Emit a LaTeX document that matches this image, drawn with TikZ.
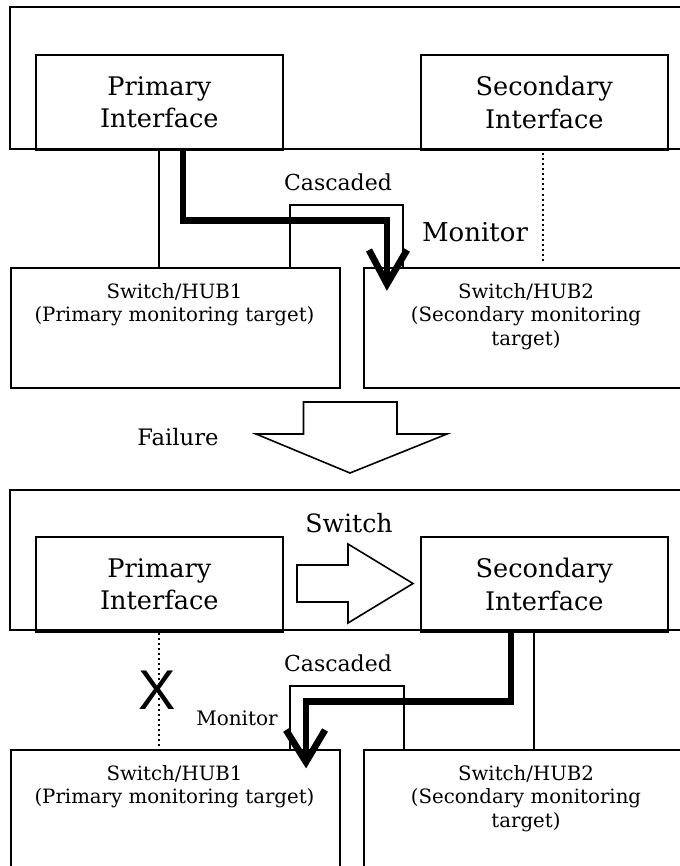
\documentclass[tikz,border=0pt]{standalone}
\usepackage{fontspec}
\setmainfont{DejaVu Serif}
\newfontfamily\xsans{Liberation Sans}
\begin{document}
\begin{tikzpicture}[x=0.75pt,y=-0.75pt,
  frame/.style={line width=1.5pt},
  ifbox/.style={draw, line width=1.2pt, anchor=north west, inner sep=0pt, align=center,
    minimum width=247*0.75pt, minimum height=95*0.75pt, font=\fontsize{19.2}{24.5}\selectfont},
  hubbox/.style={draw, line width=1.5pt, anchor=north west, inner sep=0pt},
  hubtext/.style={align=center, inner sep=0pt, anchor=north, font=\fontsize{14.8}{17.6}\selectfont},
  thinline/.style={line width=1pt},
  heavy/.style={line width=5pt, line join=miter},
  dotline/.style={line width=1.5pt, dash pattern=on 1.5pt off 2.3pt},
  lbl/.style={inner sep=0pt},
  blockarrow/.style={draw, line width=1.2pt, fill=white, line join=miter}]
\useasboundingbox (0,0) rectangle (680,866);
\clip (0,0) rectangle (680,866);
\fill[white] (0,0) rectangle (680,866);

% ---------- top situation ----------
\draw[frame] (700,7) -| (10,149) -- (700,149);
\node[ifbox] (p1) at (35,54) {Primary\\Interface};
\node[ifbox] (s1) at (420,54) {Secondary\\Interface};
\node[hubbox, minimum width=329*0.75pt, minimum height=120*0.75pt] (h1a) at (10,267) {};
\node[hubbox, minimum width=340*0.75pt, minimum height=120*0.75pt] (h2a) at (363,267) {};
\node[hubtext] (h1at) at (174.5,283) {Switch/HUB1\\(Primary monitoring target)};
\node[hubtext] (h2at) at (526,283) {Switch/HUB2\\(Secondary monitoring\\target)};

\draw[thinline] (159,0 |- p1.south) -- (159,0 |- h1a.north);
\draw[thinline] (290,0 |- h1a.north) |- (403,205) -- (403,0 |- h2a.north);
\coordinate (tipA) at (387,284);
\draw[heavy] (183,0 |- p1.south) |- (387,220.5) -- (tipA);
\draw[heavy] (369,250) -- (tipA) -- (407,250);
\draw[dotline] (543,153) -- (543,264);
\node[lbl, font=\fontsize{16.5}{17}\selectfont] (casc1) at (338,182) {Cascaded};
\node[lbl, font=\fontsize{19.5}{20}\selectfont] (mon1) at (475,232) {Monitor};

% ---------- failure ----------
\draw[blockarrow] (303.5,402) -- (397,402) -- (397,434) -- (447,434) -- (350,473)
  -- (256,434) -- (303.5,434) -- cycle;
\node[lbl, font=\fontsize{17}{17}\selectfont] (fail) at (178,437) {Failure};

% ---------- bottom situation ----------
\draw[frame] (700,490) -| (10,630) -- (700,630);
\node[ifbox] (p2) at (35,536) {Primary\\Interface};
\node[ifbox] (s2) at (420,536) {Secondary\\Interface};
\node[hubbox, minimum width=329*0.75pt, minimum height=140*0.75pt] (h1b) at (10,749) {};
\node[hubbox, minimum width=340*0.75pt, minimum height=140*0.75pt] (h2b) at (363,749) {};
\node[hubtext] (h1bt) at (174.5,765) {Switch/HUB1\\(Primary monitoring target)};
\node[hubtext] (h2bt) at (526,765) {Switch/HUB2\\(Secondary monitoring\\target)};

\draw[blockarrow] (297,565) -- (348,565) -- (348,544) -- (413,583.5) -- (348,623)
  -- (348,602) -- (297,602) -- cycle;
\node[lbl, font=\fontsize{18.9}{19}\selectfont] (sw) at (349,523) {Switch};

\draw[dotline] (159,0 |- p2.south) -- (159,0 |- h1b.north);
\node[lbl, font=\xsans\fontsize{42}{42}\selectfont] (xmark) at (157,690) {X};
\draw[thinline] (534,0 |- s2.south) -- (534,0 |- h2b.north);
\draw[thinline] (290,0 |- h1b.north) |- (404,686) -- (404,0 |- h2b.north);
\coordinate (tipB) at (306,762);
\draw[heavy] (511,0 |- s2.south) |- (306,701.5) -- (tipB);
\draw[heavy] (286,730) -- (tipB) -- (325,730);
\node[lbl, font=\fontsize{16.5}{17}\selectfont] (casc2) at (338,663) {Cascaded};
\node[lbl, font=\fontsize{15}{15}\selectfont] (mon2) at (237,718) {Monitor};
\end{tikzpicture}
\end{document}
